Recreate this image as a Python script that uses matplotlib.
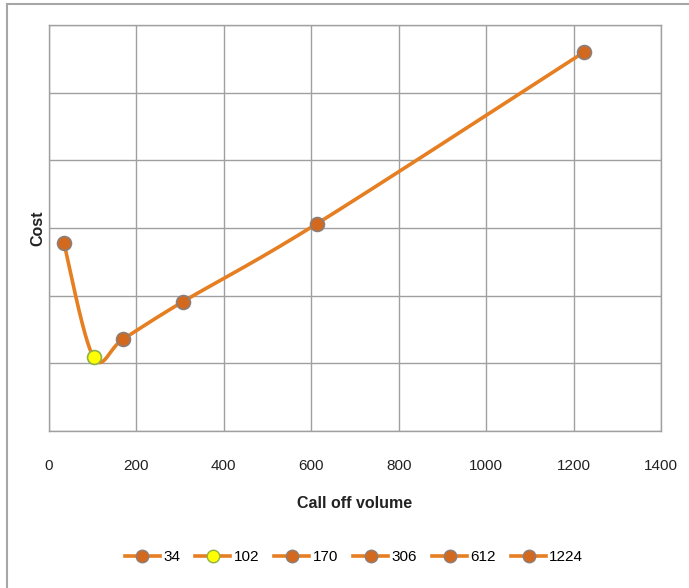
import numpy as np
import matplotlib
matplotlib.use("Agg")
import matplotlib.pyplot as plt
from matplotlib.lines import Line2D
from matplotlib.patches import Rectangle

# Data
volumes = [34, 102, 170, 306, 612, 1224]
costs = [2.78, 1.09, 1.36, 1.91, 3.06, 5.60]
series_labels = ["34", "102", "170", "306", "612", "1224"]
x_ticks = [0, 200, 400, 600, 800, 1000, 1200, 1400]
y_grid = [0, 1, 2, 3, 4, 5, 6]

line_color = "#E67E22"
marker_fill = ["#D2691E", "#FFFF00", "#D2691E", "#D2691E", "#D2691E", "#D2691E"]
marker_edge = ["#8C7F7A", "#8FB04A", "#8C7F7A", "#8C7F7A", "#8C7F7A", "#8C7F7A"]

plt.rcParams["font.family"] = ["Liberation Sans", "DejaVu Sans"]

W, H = 689, 588
fig = plt.figure(figsize=(W / 100, H / 100), dpi=100)
fig.patch.set_facecolor("white")

# chart area frame (only the top and left edges fall inside the image)
fig.add_artist(Rectangle((7 / W, -1.0), 2.0, 1.0 + (H - 4) / H, transform=fig.transFigure,
                         fill=False, edgecolor="#A6A6A6", linewidth=1.5, clip_on=False))

ax = fig.add_axes([49 / W, (H - 431) / H, 612 / W, 406 / H])
xmin, xmax = 0, 1400
ymin, ymax = 0, 6
ax.set_xlim(xmin, xmax)
ax.set_ylim(ymin, ymax)

ax.set_xticks(x_ticks)
ax.set_yticks(y_grid)
ax.set_yticklabels([])
ax.tick_params(axis="both", length=0)
ax.tick_params(axis="x", pad=20, labelsize=11, colors="#222222")
ax.grid(True, color="#A0A0A0", linewidth=1.0)
ax.set_axisbelow(True)
for s in ax.spines.values():
    s.set_color("#A0A0A0")
    s.set_linewidth(1.0)

ax.set_xlabel("Call off volume", fontsize=11.5, fontweight="bold", labelpad=17, color="#222222")
ax.set_ylabel("Cost", fontsize=11.5, fontweight="bold", labelpad=-1, color="#222222")

# Smoothed line (Catmull-Rom style Bezier in normalised axes space)
px = (np.array(volumes) - xmin) / (xmax - xmin) * 612
py = (np.array(costs) - ymin) / (ymax - ymin) * 406
P = np.column_stack([px, py])
n = len(P)
curve = []
t = np.linspace(0, 1, 40)
for i in range(n - 1):
    p0 = P[i - 1] if i > 0 else P[i]
    p1 = P[i]
    p2 = P[i + 1]
    p3 = P[i + 2] if i + 2 < n else P[i + 1]
    c1 = p1 + (p2 - p0) / 6.0
    c2 = p2 - (p3 - p1) / 6.0
    seg = ((1 - t) ** 3)[:, None] * p1 + (3 * (1 - t) ** 2 * t)[:, None] * c1 \
        + (3 * (1 - t) * t ** 2)[:, None] * c2 + (t ** 3)[:, None] * p2
    curve.append(seg)
curve = np.vstack(curve)
cx = curve[:, 0] / 612 * (xmax - xmin) + xmin
cy = curve[:, 1] / 406 * (ymax - ymin) + ymin
ax.plot(cx, cy, color=line_color, linewidth=2.6, solid_capstyle="round", zorder=3)

for x, y, fc, ec in zip(volumes, costs, marker_fill, marker_edge):
    ax.plot([x], [y], marker="o", markersize=10, markerfacecolor=fc,
            markeredgecolor=ec, markeredgewidth=1.2, linestyle="none", zorder=4)

handles = [Line2D([0], [0], color=line_color, linewidth=2.6, marker="o", markersize=9,
                  markerfacecolor=fc, markeredgecolor=ec, markeredgewidth=1.0)
           for fc, ec in zip(marker_fill, marker_edge)]
fig.legend(handles, series_labels, loc="center", bbox_to_anchor=(354 / W, (H - 557) / H),
           ncol=6, frameon=False, fontsize=11, handlelength=2.3, handletextpad=0.2,
           columnspacing=1.0)

fig.savefig("out.png", dpi=100, facecolor="white")
